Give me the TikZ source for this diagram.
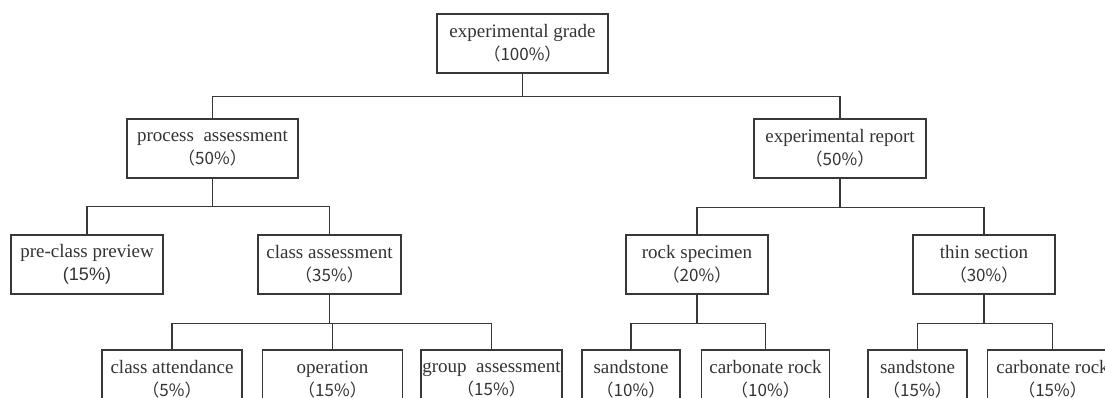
\documentclass[tikz,border=0pt]{standalone}
\usepackage{fontspec}
\setmainfont{Liberation Serif}
\newfontfamily\cjk{Noto Sans CJK SC}
\newfontfamily\arial{Liberation Sans}
\usepackage{tikz}
\usetikzlibrary{positioning}
\colorlet{boxgray}{black!78}
\colorlet{txtgray}{black!80}
\newcommand{\pctline}[1]{{\cjk\fontsize{17}{23}\selectfont （#1\%）}}

\begin{document}
\begin{tikzpicture}[x=1pt,y=-1pt,
        box/.style={draw=boxgray, line width=1.5pt, align=center, inner sep=0pt,
            minimum height=59pt, text=txtgray, font=\fontsize{19}{23}\selectfont},
        link/.style={draw=boxgray, line width=1.3pt}]
        \useasboundingbox (0,0) rectangle (1105,398);
        \clip (0,0) rectangle (1105,398);

        % Nodes
        \node[box, minimum width=171pt] (grade) at (522.5,43.5) {experimental grade\\\pctline{100}};

        \node[box, minimum width=171pt] (proc)   at (212.5,148.5) {process\enspace assessment\\\pctline{50}};
        \node[box, minimum width=172pt] (report) at (840,148.5)   {experimental report\\\pctline{50}};

        \node[box, minimum width=152pt] (preview)  at (87,264.5)    {pre-class preview\\{\arial\fontsize{18}{23}\selectfont (15\%)}};
        \node[box, minimum width=143pt] (classa)   at (329.5,264.5) {class assessment\\\pctline{35}};
        \node[box, minimum width=142pt] (specimen) at (697,264.5)   {rock specimen\\\pctline{20}};
        \node[box, minimum width=142pt] (thin)     at (984,264.5)   {thin section\\\pctline{30}};

        \node[box, minimum width=140pt] (attend) at (172,379.5) {class attendance\\\pctline{5}};
        \node[box, minimum width=140pt, right=19pt of attend] (oper)  {operation\\\pctline{15}};
        \node[box, minimum width=141pt, right=17pt of oper]   (group) {group\enspace assessment\\\pctline{15}};

        \node[box, minimum width=98pt] (sand1) at (631,379.5) {sandstone\\\pctline{10}};
        \node[box, minimum width=128pt, right=20pt of sand1] (carb1) {carbonate rock\\\pctline{10}};

        \node[box, minimum width=99pt] (sand2) at (917.5,379.5) {sandstone\\\pctline{15}};
        \node[box, minimum width=130pt, right=19pt of sand2] (carb2) {carbonate rock\\\pctline{15}};

        % Edges
        \draw[link] (grade.south) -- ++(0,23) -| (proc.north);
        \draw[link] (grade.south) -- ++(0,23) -| (report.north);

        \draw[link] (proc.south) -- ++(0,28) -| (preview.north);
        \draw[link] (proc.south) -- ++(0,28) -| (classa.north);
        \draw[link] (report.south) -- ++(0,29) -| (specimen.north);
        \draw[link] (report.south) -- ++(0,29) -| (thin.north);

        \draw[link] (classa.south) -- ++(0,29) -| (attend.north);
        \draw[link] (classa.south) -- ++(0,29) -| (oper.north);
        \draw[link] (classa.south) -- ++(0,29) -| (group.north);
        \draw[link] (specimen.south) -- ++(0,29) -| (sand1.north);
        \draw[link] (specimen.south) -- ++(0,29) -| (carb1.north);
        \draw[link] (thin.south) -- ++(0,29) -| (sand2.north);
        \draw[link] (thin.south) -- ++(0,29) -| (carb2.north);
    \end{tikzpicture}
\end{document}
